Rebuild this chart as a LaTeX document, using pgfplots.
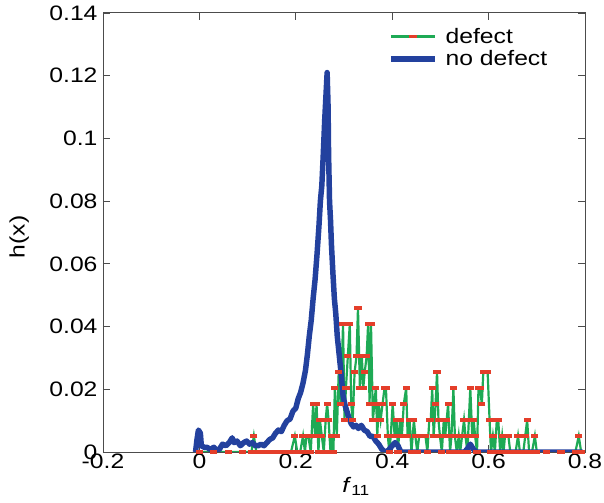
\documentclass[border=0pt]{standalone}
\usepackage{fontspec}
\setmainfont{Liberation Sans}[FakeStretch=1.18]
\usepackage{pgfplots}
\usepackage{pgfplotstable}
\pgfplotsset{compat=1.18}

\definecolor{nodefblue}{RGB}{35,65,158}
\definecolor{defgreen}{RGB}{30,170,85}
\definecolor{defred}{RGB}{228,62,42}

% defect histogram (bin heights are counts x 0.0051)
\pgfplotstableread{
x y
0.000 0
0.030 0
0.060 0
0.090 0
0.108 0
0.113 0.0051
0.118 0
0.130 0
0.136 0
0.142 0
0.148 0
0.154 0
0.160 0
0.166 0
0.172 0
0.178 0
0.184 0
0.190 0
0.198 0.0051
0.203 0
0.209 0
0.215 0.0051
0.219 0
0.222 0.0051
0.226 0.0051
0.231 0
0.236 0.0153
0.240 0.0051
0.243 0.0153
0.247 0
0.250 0.0102
0.254 0.0051
0.258 0
0.262 0.0102
0.265 0.0153
0.268 0.0102
0.272 0
0.275 0.0051
0.278 0
0.281 0.0204
0.285 0.0051
0.289 0.0255
0.293 0.0153
0.298 0.0408
0.301 0.0102
0.304 0.0204
0.308 0.0306
0.312 0.0408
0.315 0.0153
0.318 0.0102
0.322 0.0255
0.326 0.0306
0.329 0.0459
0.333 0.0204
0.337 0.0306
0.340 0.0204
0.343 0.0255
0.347 0.0306
0.350 0.0408
0.353 0.0153
0.356 0.0408
0.360 0.0102
0.363 0.0153
0.366 0.0204
0.369 0.0051
0.372 0.0153
0.376 0.0102
0.380 0.0153
0.384 0.0204
0.387 0.0204
0.391 0.0051
0.394 0
0.397 0.0051
0.401 0.0153
0.405 0.0051
0.409 0.0102
0.412 0
0.416 0.0102
0.420 0.0051
0.424 0.0153
0.429 0.0204
0.432 0.0051
0.436 0.0102
0.440 0
0.445 0.0102
0.448 0.0051
0.452 0
0.456 0.0051
0.460 0.0051
0.465 0.0051
0.469 0.0051
0.473 0
0.477 0.0102
0.480 0.0102
0.483 0.0204
0.486 0.0051
0.490 0.0153
0.493 0.0255
0.496 0.0102
0.499 0.0051
0.503 0
0.507 0.0102
0.510 0.0051
0.513 0.0102
0.516 0.0153
0.520 0
0.523 0.0051
0.527 0.0204
0.530 0.0051
0.534 0
0.538 0.0051
0.541 0
0.545 0.0051
0.549 0.0102
0.552 0.0051
0.556 0
0.559 0.0102
0.562 0.0204
0.566 0.0051
0.569 0.0102
0.572 0.0051
0.576 0
0.579 0.0204
0.582 0.0204
0.586 0.0153
0.589 0.0255
0.593 0.0255
0.598 0.0255
0.602 0.0102
0.605 0
0.609 0.0051
0.613 0
0.617 0.0102
0.620 0.0102
0.624 0
0.628 0.0051
0.631 0
0.634 0.0051
0.638 0.0051
0.641 0.0051
0.645 0
0.652 0
0.656 0
0.661 0.0051
0.665 0
0.672 0
0.676 0.0051
0.680 0.0102
0.684 0
0.690 0
0.696 0.0051
0.700 0
0.720 0
0.750 0
0.780 0
0.787 0.0051
0.792 0
}\defect

% no defect
\pgfplotstableread{
x y
-0.008 0
-0.005 0.004
-0.002 0.007
0.002 0.006
0.004 0.002
0.010 0.0015
0.016 0.0015
0.022 0.0008
0.030 0.0015
0.036 0.0005
0.042 0.001
0.048 0.0025
0.055 0.002
0.062 0.003
0.068 0.0045
0.072 0.003
0.078 0.0035
0.085 0.002
0.092 0.003
0.098 0.0035
0.104 0.0025
0.110 0.003
0.116 0.002
0.122 0.002
0.128 0.0025
0.134 0.002
0.140 0.003
0.146 0.004
0.152 0.0045
0.158 0.006
0.164 0.007
0.170 0.0065
0.176 0.0085
0.182 0.010
0.188 0.0105
0.194 0.013
0.200 0.014
0.205 0.017
0.210 0.019
0.215 0.022
0.220 0.026
0.224 0.031
0.228 0.037
0.232 0.042
0.236 0.049
0.240 0.055
0.244 0.063
0.248 0.072
0.251 0.080
0.254 0.085
0.257 0.095
0.260 0.106
0.263 0.115
0.265 0.121
0.267 0.110
0.268 0.095
0.270 0.080
0.272 0.074
0.274 0.066
0.277 0.057
0.280 0.049
0.283 0.044
0.286 0.037
0.290 0.031
0.294 0.025
0.298 0.018
0.302 0.015
0.306 0.013
0.310 0.011
0.315 0.009
0.320 0.008
0.325 0.0085
0.330 0.0075
0.336 0.0085
0.342 0.007
0.348 0.0065
0.354 0.005
0.360 0.005
0.366 0.0035
0.372 0.0025
0.378 0.001
0.384 0
0.392 0.0005
0.400 0.002
0.406 0.003
0.412 0.002
0.418 0
0.450 0
0.500 0
0.550 0
0.556 0.001
0.562 0.0025
0.568 0.001
0.574 0
0.650 0
0.700 0
0.750 0
0.795 0
}\nodefect

\begin{document}
\begin{tikzpicture}
\useasboundingbox (-103bp,-51bp) rectangle (501bp,452bp);
\begin{axis}[
    at={(0,0)}, anchor=south west,
    scale only axis,
    width=482bp, height=439bp,
    xmin=-0.2, xmax=0.8,
    ymin=0, ymax=0.14,
    xtick={-0.2,0,0.2,0.4,0.6,0.8},
    ytick={0,0.02,0.04,0.06,0.08,0.1,0.12,0.14},
    scaled y ticks=false,
    /pgf/number format/assume math mode=true,
    yticklabel style={/pgf/number format/fixed, /pgf/number format/precision=2,
        xshift=-2bp},
    xticklabel style={yshift=2bp},
    ticklabel style={font=\fontsize{21}{25}\selectfont},
    label style={font=\fontsize{21}{25}\selectfont},
    tick align=inside,
    major tick length=7bp,
    axis line style={black!70, line width=1pt},
    every tick/.style={black!70, line width=0.8pt},
    xlabel={\textit{f}\textsubscript{11}},
    xlabel style={xshift=12bp, yshift=-2bp},
    ylabel={h(x)},
    ylabel style={at={(axis description cs:-0.174,0.49)}, anchor=center},
    legend cell align=left,
    legend style={draw=none, fill=none, at={(0.585,0.975)}, anchor=north west,
        font=\fontsize{21}{25}\selectfont, row sep=2bp,
        nodes={inner xsep=8bp}},
    legend image code/.code={
        \draw[mark repeat=2, mark phase=2, #1]
            plot coordinates {(0bp,0bp) (22bp,0bp) (44bp,0bp)};
    },
]
\addplot[defgreen, line width=2.2pt, mark=-, mark size=3.6bp,
    mark options={defred, line width=3.4pt}] table {\defect};
\addlegendentry{defect}
\addplot[nodefblue, line width=5.5pt, line join=round] table {\nodefect};
\addlegendentry{no defect}
\end{axis}
\end{tikzpicture}
\end{document}
